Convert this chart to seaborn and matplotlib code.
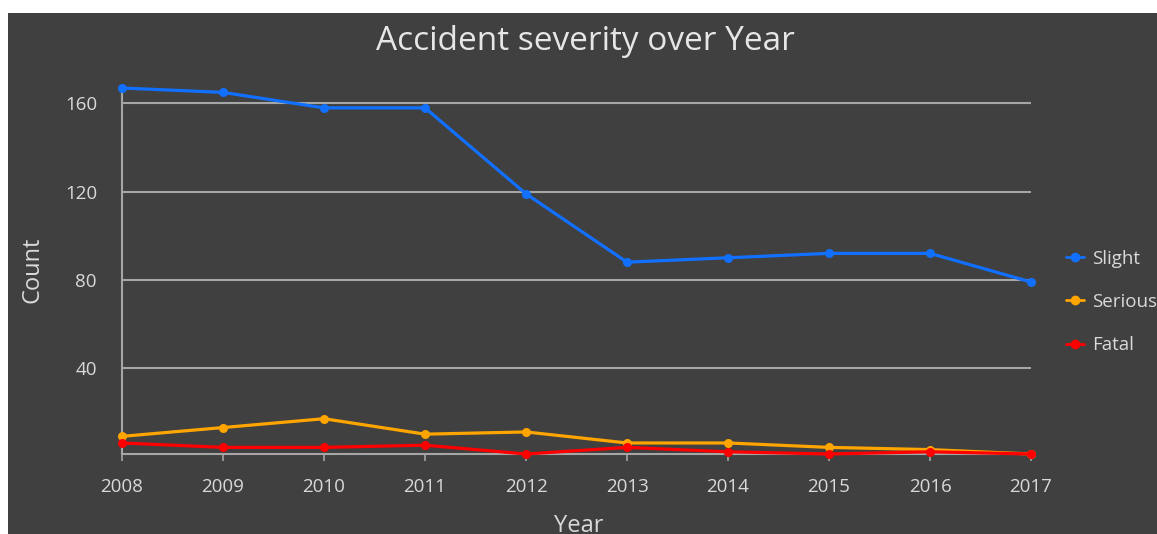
import matplotlib
matplotlib.use("Agg")
import matplotlib.pyplot as plt
from matplotlib.patches import Rectangle
from matplotlib.lines import Line2D
import seaborn as sns
import pandas as pd

# Accident counts per year by severity
years = [2008, 2009, 2010, 2011, 2012, 2013, 2014, 2015, 2016, 2017]
slight = [167, 165, 158, 158, 119, 88, 90, 92, 92, 79]
serious = [9, 13, 17, 10, 11, 6, 6, 4, 3, 1]
fatal = [6, 4, 4, 5, 1, 4, 2, 1, 2, 1]
severities = ["Slight", "Serious", "Fatal"]
colors = ["#1170FF", "#FFA500", "#FF0000"]
y_ticks = [40, 80, 120, 160]

df = pd.DataFrame({
    "Year": years * 3,
    "Count": slight + serious + fatal,
    "Severity": sum([[s] * len(years) for s in severities], []),
})

sns.set_theme(style="dark")
plt.rcParams["font.family"] = ["Open Sans", "DejaVu Sans"]

BG = "#404040"
TXT = "#D9D9D9"
GRID = "#A6A6A6"

W, H = 1157, 534
fig = plt.figure(figsize=(W / 100, H / 100), dpi=100, facecolor="white")
fig.patches.append(Rectangle((8 / W, 0), 1 - 8 / W, 1 - 13 / H,
                             transform=fig.transFigure, facecolor=BG,
                             edgecolor="none", zorder=-10))

ax = fig.add_axes([122 / W, (H - 454) / H, (1031 - 122) / W, (454 - 88) / H])
ax.set_facecolor(BG)
ax.patch.set_alpha(0)

palette = dict(zip(severities, colors))
sns.lineplot(data=df, x="Year", y="Count", hue="Severity", palette=palette,
             hue_order=severities, marker="o", markersize=6.5,
             markeredgewidth=0, linewidth=2.3, ax=ax, legend=False)
for ln in ax.lines:
    ln.set_clip_on(False)
    ln.set_zorder(5)

ax.set_xlim(2008, 2017)
ax.set_ylim(1, 167)
ax.set_xticks(years)
ax.set_xticklabels([str(y) for y in years])
ax.set_yticks(y_ticks)

for yv in y_ticks:
    ax.axhline(yv, color=GRID, linewidth=1.5, zorder=1)

for side in ["top", "right"]:
    ax.spines[side].set_visible(False)
for side in ["left", "bottom"]:
    ax.spines[side].set_color(GRID)
    ax.spines[side].set_linewidth(1.5)
    ax.spines[side].set_zorder(1)

ax.tick_params(axis="x", colors=GRID, length=5, width=1.2, pad=12,
               labelsize=13.5, labelcolor=TXT, direction="out", bottom=True)
ax.tick_params(axis="y", length=0, pad=18, labelsize=13.5, labelcolor=TXT)
ax.grid(False)

ax.set_xlabel("Year", fontsize=17, color=TXT)
ax.set_ylabel("Count", fontsize=17, color=TXT)
ax.xaxis.set_label_coords(0.503, -0.163)
ax.yaxis.set_label_coords(-0.085, 0.503)

fig.text(585 / W, 1 - 41 / H, "Accident severity over Year", ha="center",
         va="center", fontsize=24, color="#E6E6E6")

handles = [Line2D([0], [0], color=c, marker="o", markersize=7, linewidth=2,
                  markeredgewidth=0) for c in colors]
leg = fig.legend(handles, severities, loc="center left",
                 bbox_to_anchor=(1058 / W, 1 - 302 / H), frameon=False,
                 fontsize=13.5, handlelength=1.0, handletextpad=0.4,
                 labelspacing=1.35, borderaxespad=0)
for t in leg.get_texts():
    t.set_color(TXT)

fig.savefig("out.png", dpi=100, facecolor=fig.get_facecolor())
